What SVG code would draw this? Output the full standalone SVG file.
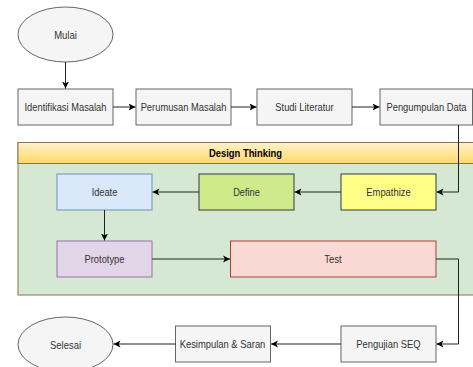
<svg xmlns="http://www.w3.org/2000/svg" width="473" height="367" viewBox="0 0 473 367">
<defs>
<linearGradient id="hdr" x1="0" y1="0" x2="0" y2="1">
<stop offset="0" stop-color="#fff2cc"/>
<stop offset="1" stop-color="#ffd966"/>
</linearGradient>
<marker id="arr" markerWidth="8" markerHeight="8" refX="7" refY="4" orient="auto" markerUnits="userSpaceOnUse">
<path d="M0,0.5 L7,4 L0,7.5 L1.8,4 Z" fill="#000"/>
</marker>
<style>
text{font-family:"Liberation Sans",Arial,Helvetica,sans-serif;font-size:11.5px;text-anchor:middle;dominant-baseline:central;fill:#333333}
.g{fill:#f5f5f5;stroke:#666666;stroke-width:1}
.c line,.c polyline{fill:none;stroke:#222;stroke-width:1;marker-end:url(#arr)}
.t{fill:#000;font-weight:bold}
</style>
</defs>
<rect width="473" height="367" fill="#ffffff"/>
<g id="design-thinking">
<rect x="18" y="142.5" width="460" height="152.5" fill="#d5e8d4" stroke="#857846" stroke-width="1"/>
<rect x="18" y="142.5" width="460" height="21" fill="url(#hdr)" stroke="#857846" stroke-width="1"/>
<text class="t" x="245.5" y="153" textLength="73" lengthAdjust="spacingAndGlyphs">Design Thinking</text>
</g>
<g id="mulai"><ellipse cx="65.5" cy="34.5" rx="47.5" ry="27.5" class="g"/><text x="65.5" y="34.5" textLength="22.7" lengthAdjust="spacingAndGlyphs">Mulai</text></g>
<g id="identifikasi"><rect x="18" y="89" width="95" height="36" class="g"/><text x="65.5" y="107" textLength="82" lengthAdjust="spacingAndGlyphs">Identifikasi Masalah</text></g>
<g id="perumusan"><rect x="136" y="89" width="95" height="36" class="g"/><text x="183.5" y="107" textLength="85.7" lengthAdjust="spacingAndGlyphs">Perumusan Masalah</text></g>
<g id="studi"><rect x="257" y="89" width="95" height="36" class="g"/><text x="304.5" y="107" textLength="58.4" lengthAdjust="spacingAndGlyphs">Studi Literatur</text></g>
<g id="pengumpulan"><rect x="380" y="89" width="92.5" height="36" class="g"/><text x="426.5" y="107" style="font-size:10.2px" textLength="80" lengthAdjust="spacingAndGlyphs">Pengumpulan Data</text></g>
<g id="ideate"><rect x="57" y="174" width="95" height="36" fill="#dae8fc" stroke="#6c8ebf"/><text x="104.5" y="192" textLength="25.6" lengthAdjust="spacingAndGlyphs">Ideate</text></g>
<g id="define"><rect x="199" y="174" width="95" height="36" fill="#cdeb8b" stroke="#36393d"/><text x="246.5" y="192" textLength="26.6" lengthAdjust="spacingAndGlyphs">Define</text></g>
<g id="empathize"><rect x="341" y="174" width="95" height="36" fill="#ffff88" stroke="#36393d"/><text x="388.5" y="192" textLength="44.3" lengthAdjust="spacingAndGlyphs">Empathize</text></g>
<g id="prototype"><rect x="57" y="241" width="95" height="36" fill="#e1d5e7" stroke="#9673a6"/><text x="104.5" y="259" textLength="40" lengthAdjust="spacingAndGlyphs">Prototype</text></g>
<g id="test"><rect x="230.5" y="241" width="205.5" height="36" fill="#fad9d5" stroke="#ae4132"/><text x="333" y="259" textLength="17.4" lengthAdjust="spacingAndGlyphs">Test</text></g>
<g id="pengujian"><rect x="341" y="326" width="95" height="36" class="g"/><text x="388.5" y="344" textLength="64.3" lengthAdjust="spacingAndGlyphs">Pengujian SEQ</text></g>
<g id="kesimpulan"><rect x="175.5" y="326" width="95" height="36" class="g"/><text x="222.5" y="344" textLength="85.7" lengthAdjust="spacingAndGlyphs">Kesimpulan &amp; Saran</text></g>
<g id="selesai"><ellipse cx="65.5" cy="344.5" rx="47.5" ry="27.5" class="g"/><text x="65.5" y="344.5" textLength="31" lengthAdjust="spacingAndGlyphs">Selesai</text></g>
<g id="connectors" class="c">
<line x1="65.5" y1="62" x2="65.5" y2="88.5"/>
<line x1="113" y1="107" x2="135.5" y2="107"/>
<line x1="231" y1="107" x2="256.5" y2="107"/>
<line x1="352" y1="107" x2="379.5" y2="107"/>
<polyline points="458.5,125 458.5,192 436.5,192"/>
<line x1="341" y1="192" x2="294.5" y2="192"/>
<line x1="199" y1="192" x2="152.5" y2="192"/>
<line x1="104.5" y1="210" x2="104.5" y2="240.5"/>
<line x1="152" y1="259" x2="230" y2="259"/>
<polyline points="436,259 458.5,259 458.5,344 436.5,344"/>
<line x1="341" y1="344" x2="271" y2="344"/>
<line x1="175.5" y1="344" x2="113.5" y2="344"/>
</g>
</svg>
